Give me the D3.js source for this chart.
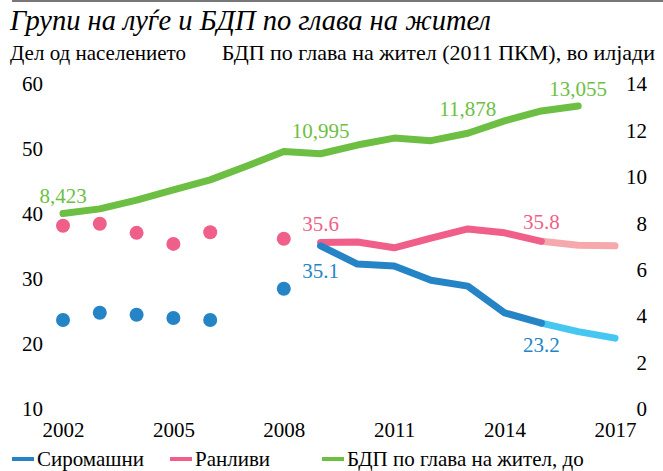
<!DOCTYPE html>
<html>
<head>
<meta charset="utf-8">
<script src="https://cdn.jsdelivr.net/npm/d3@7"></script>
<style>
  body { margin: 0; background: #fff; }
</style>
</head>
<body>
<div id="chart"></div>
<script>
// values
var dotYears = [2002, 2003, 2004, 2005, 2006, 2008];
var poorDots = [23.7, 24.8, 24.5, 24.0, 23.7, 28.5];
var vulnDots = [38.2, 38.5, 37.1, 35.4, 37.2, 36.2];

var lineYears = [2009, 2010, 2011, 2012, 2013, 2014, 2015];
var poorLine = [35.1, 32.3, 32.0, 29.8, 28.9, 24.8, 23.2];
var vulnLine = [35.6, 35.7, 34.8, 36.3, 37.7, 37.1, 35.8];

var projYears = [2015, 2016, 2017];
var poorProj = [23.2, 21.9, 20.9];
var vulnProj = [35.8, 35.2, 35.1];

var gdpYears = [2002, 2003, 2004, 2005, 2006, 2007, 2008, 2009, 2010, 2011, 2012, 2013, 2014, 2015, 2016];
var gdp = [8.423, 8.62, 9.0, 9.44, 9.87, 10.47, 11.09, 10.995, 11.37, 11.67, 11.56, 11.878, 12.41, 12.84, 13.055];

var xTicks = [2002, 2005, 2008, 2011, 2014, 2017];
var leftTicks = [10, 20, 30, 40, 50, 60];
var rightTicks = [0, 2, 4, 6, 8, 10, 12, 14];

var legendNames = ["Сиромашни", "Ранливи", "БДП по глава на жител, до"];

var blue = "#2584c6", lightBlue = "#46c7f1";
var pink = "#f05f8a", lightPink = "#f6a9ad";
var green = "#6cbf42";
var serif = "'Liberation Serif', 'Times New Roman', serif";

var W = 663, H = 471;
var svg = d3.select("#chart").append("svg")
  .attr("width", W)
  .attr("height", H)
  .attr("font-family", serif);

var x = d3.scaleLinear().domain([2002, 2017]).range([63, 615]);
var yL = d3.scaleLinear().domain([10, 60]).range([409, 84]);
var yR = d3.scaleLinear().domain([0, 14]).range([409, 84]);

// top rule + titles
svg.append("line")
  .attr("x1", 12).attr("x2", W).attr("y1", 1).attr("y2", 1)
  .attr("stroke", "#777").attr("stroke-width", 2);

svg.append("text")
  .attr("x", 10).attr("y", 30)
  .style("font-size", "28.5px").style("font-style", "italic")
  .text("Групи на луѓе и БДП по глава на жител");

svg.append("text")
  .attr("x", 10).attr("y", 60)
  .style("font-size", "21px")
  .text("Дел од населението");

svg.append("text")
  .attr("x", 655).attr("y", 60)
  .attr("text-anchor", "end")
  .style("font-size", "22px")
  .text("БДП по глава на жител (2011 ПКМ), во илјади");

// axes (text only, no domain lines)
var axL = svg.append("g")
  .attr("transform", "translate(43,0)")
  .call(d3.axisLeft(yL).tickValues(leftTicks).tickSize(0).tickPadding(0));
var axR = svg.append("g")
  .attr("transform", "translate(647,0)")
  .call(d3.axisLeft(yR).tickValues(rightTicks).tickSize(0).tickPadding(0));
var axB = svg.append("g")
  .attr("transform", "translate(0,418)")
  .call(d3.axisBottom(x).tickValues(xTicks).tickFormat(d3.format("d")).tickSize(0).tickPadding(4));

[axL, axR, axB].forEach(function (g) {
  g.attr("font-family", serif).attr("font-size", 21);
  g.select(".domain").remove();
  g.selectAll("text").attr("fill", "#000");
});

// lines
var lineL = function (xs) {
  return d3.line()
    .x(function (d, i) { return x(xs[i]); })
    .y(function (d) { return yL(d); });
};

svg.append("path")
  .attr("d", d3.line()
    .x(function (d, i) { return x(gdpYears[i]); })
    .y(function (d) { return yR(d); })(gdp))
  .attr("fill", "none").attr("stroke", green)
  .attr("stroke-width", 7).attr("stroke-linecap", "round").attr("stroke-linejoin", "round");

[[vulnProj, projYears, lightPink], [poorProj, projYears, lightBlue],
 [vulnLine, lineYears, pink], [poorLine, lineYears, blue]].forEach(function (s) {
  svg.append("path")
    .attr("d", lineL(s[1])(s[0]))
    .attr("fill", "none").attr("stroke", s[2])
    .attr("stroke-width", 7).attr("stroke-linecap", "round").attr("stroke-linejoin", "round");
});

// dots
svg.append("g").selectAll("circle")
  .data(vulnDots).enter().append("circle")
  .attr("cx", function (d, i) { return x(dotYears[i]); })
  .attr("cy", function (d) { return yL(d); })
  .attr("r", 7).attr("fill", pink);

svg.append("g").selectAll("circle")
  .data(poorDots).enter().append("circle")
  .attr("cx", function (d, i) { return x(dotYears[i]); })
  .attr("cy", function (d) { return yL(d); })
  .attr("r", 7).attr("fill", blue);

// value labels (gdp shown in dollars with thousands comma)
var fmt = function (v) { return d3.format(",")(Math.round(v * 1000)); };
var labels = [
  { yr: 2002, y: yR(gdp[0]) - 10, t: fmt(gdp[0]), c: green },
  { yr: 2009, y: yR(gdp[7]) - 16, t: fmt(gdp[7]), c: green },
  { yr: 2013, y: yR(gdp[11]) - 17, t: fmt(gdp[11]), c: green },
  { yr: 2016, y: yR(gdp[14]) - 10, t: fmt(gdp[14]), c: green },
  { yr: 2009, y: yL(vulnLine[0]) - 12, t: vulnLine[0].toFixed(1), c: pink },
  { yr: 2015, y: yL(vulnLine[6]) - 12, t: vulnLine[6].toFixed(1), c: pink },
  { yr: 2009, y: yL(poorLine[0]) + 32, t: poorLine[0].toFixed(1), c: blue },
  { yr: 2015, y: yL(poorLine[6]) + 29, t: poorLine[6].toFixed(1), c: blue }
];
svg.append("g").selectAll("text")
  .data(labels).enter().append("text")
  .attr("x", function (d) { return x(d.yr); })
  .attr("y", function (d) { return d.y; })
  .attr("text-anchor", "middle")
  .attr("fill", function (d) { return d.c; })
  .style("font-size", "21px")
  .text(function (d) { return d.t; });

// legend
var legX = [12, 170, 322];
var legC = [blue, pink, green];
var leg = svg.append("g").selectAll("g")
  .data(legendNames).enter().append("g")
  .attr("transform", function (d, i) { return "translate(" + legX[i] + ",459)"; });
leg.append("line")
  .attr("x1", 0).attr("x2", 22).attr("y1", 0).attr("y2", 0)
  .attr("stroke", function (d, i) { return legC[i]; })
  .attr("stroke-width", 4);
leg.append("text")
  .attr("x", 25).attr("y", 7)
  .style("font-size", "21px")
  .text(function (d) { return d; });
</script>
</body>
</html>
